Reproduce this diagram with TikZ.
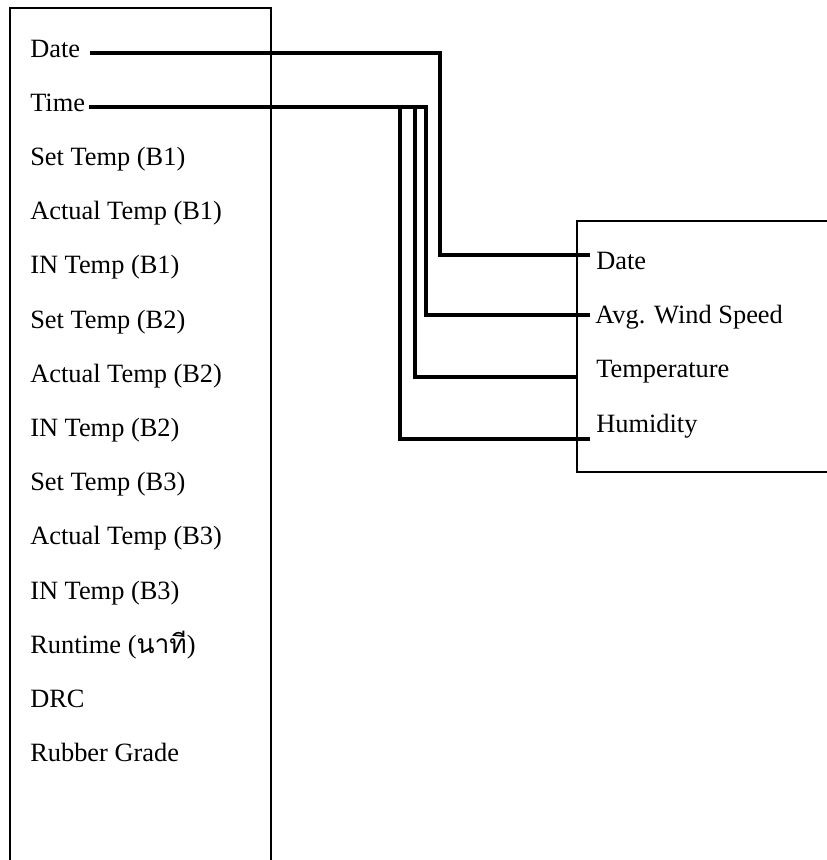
\documentclass[tikz,border=0pt]{standalone}
\usepackage{fontspec}
\setmainfont{Liberation Serif}
\newfontfamily\thaifont[Script=Thai]{Loma}
\begin{document}
\begin{tikzpicture}[x=0.75pt,y=-0.75pt,
  boxline/.style={line width=1.1pt},
  conn/.style={line width=2.5pt},
  lbl/.style={anchor=base west,inner sep=0pt,font=\fontsize{19.8}{24}\selectfont}]
\useasboundingbox (0,0) rectangle (826,860);
% left box (open at the bottom of the picture)
\draw[boxline] (10,865) -- (10,8) -- (271,8) -- (271,865);
% right box (open at the right edge of the picture)
\draw[boxline] (830,221) -- (577,221) -- (577,472) -- (830,472);
% left labels
\foreach \t [count=\i] in {Date,Time,Set Temp (B1),Actual Temp (B1),IN Temp (B1),Set Temp (B2),Actual Temp (B2),IN Temp (B2),Set Temp (B3),Actual Temp (B3),IN Temp (B3),{Runtime ({\thaifont นาที})},DRC,Rubber Grade}
  \node[lbl] (L\i) at (30,{57+(\i-1)*54.2}) {\t};
% right labels
\node[lbl] (R1) at (596,269) {Date};
\node[lbl] (R2) at (595,323.3) {Avg. Wind Speed};
\node[lbl] (R3) at (596,377.6) {Temperature};
\node[lbl] (R4) at (596,432) {Humidity};
% connector ends
\coordinate (dS) at ([xshift=10*0.75pt]L1.east |- 0,53);
\coordinate (tS) at ([xshift=4*0.75pt]L2.east |- 0,107);
\coordinate (dE) at (590,255);
\coordinate (aE) at (590,315);
\coordinate (teE) at (577,377);
\coordinate (hE) at (590,439);
% connectors
\draw[conn] (dS) -- (440,53) -- (440,255) -- (dE);
\draw[conn] (tS) -- (426,107) -- (426,315) -- (aE);
\draw[conn] (415,107) -- (415,377) -- (teE);
\draw[conn] (400,107) -- (400,439) -- (hE);
\end{tikzpicture}
\end{document}
